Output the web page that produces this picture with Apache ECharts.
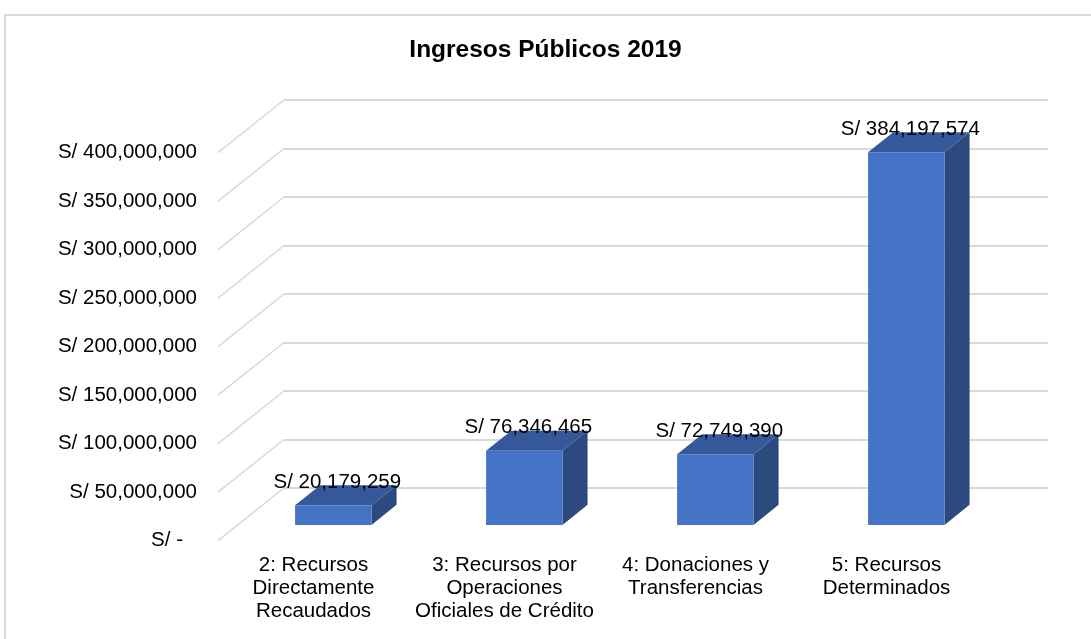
<!DOCTYPE html>
<html>
<head>
<meta charset="utf-8">
<title>Ingresos Públicos 2019</title>
<script src="https://cdn.jsdelivr.net/npm/echarts@6/dist/echarts.min.js"></script>
<style>
  html, body { margin: 0; padding: 0; background: #fff; }
  #main { width: 1091px; height: 639px; }
</style>
</head>
<body>
<div id="main"></div>
<script>
// categorías (partidas en líneas como en el gráfico original)
var categorias = [
  '2: Recursos\nDirectamente\nRecaudados',
  '3: Recursos por\nOperaciones\nOficiales de Crédito',
  '4: Donaciones y\nTransferencias',
  '5: Recursos\nDeterminados'
]
// montos por fuente de financiamiento
var montos = [20179259, 76346465, 72749390, 384197574]
// marcas del eje de valores
var marcas = [0, 50000000, 100000000, 150000000, 200000000, 250000000, 300000000, 350000000, 400000000]

// profundidad del "3D": desplazamiento de la pared del fondo respecto al plano frontal (px)
var PROF_X = 66
var PROF_Y = 52.7
var FUENTE = '"Liberation Sans", Arial, sans-serif'
var TAM = 20.5

function formato(v) {
  if (v === 0) return 'S/ -'
  return 'S/ ' + v.toLocaleString('en-US')
}

var chart = echarts.init(document.getElementById('main'))

// plano frontal
var gridFrente = { left: 218, right: 109, top: 152.7, bottom: 98.3 }
// pared del fondo (desplazada por la profundidad)
var gridFondo = {
  left: gridFrente.left + PROF_X,
  right: gridFrente.right - PROF_X,
  top: gridFrente.top - PROF_Y,
  bottom: gridFrente.bottom + PROF_Y
}

// líneas diagonales de la pared lateral
function dibujarDiagonal(params, api) {
  var p = api.coord([0, api.value(1)])
  var x0 = p[0] - api.size([1, 0])[0] / 2
  return {
    type: 'line',
    shape: { x1: x0, y1: p[1], x2: x0 + PROF_X, y2: p[1] - PROF_Y },
    style: { stroke: '#d9d9d9', lineWidth: 1.5 }
  }
}

// barra 3D: cara frontal, superior y lateral
function dibujarBarra(params, api) {
  var i = api.value(0)
  var v = api.value(1)
  var base = api.coord([i, 0])
  var tope = api.coord([i, v])
  var ancho = api.size([1, 0])[0] * 0.4
  var ox = PROF_X * 0.3, oy = -PROF_Y * 0.3
  var dx = PROF_X * 0.38, dy = -PROF_Y * 0.38
  var x0 = base[0] - ancho / 2 + ox
  var x1 = x0 + ancho
  var y0 = base[1] + oy
  var y1 = tope[1] + oy
  return {
    type: 'group',
    children: [
      {
        type: 'polygon',
        shape: { points: [[x1, y0], [x1 + dx, y0 + dy], [x1 + dx, y1 + dy], [x1, y1]] },
        style: { fill: '#2c4a7e' }
      },
      {
        type: 'polygon',
        shape: { points: [[x0, y1], [x1, y1], [x1 + dx, y1 + dy], [x0 + dx, y1 + dy]] },
        style: { fill: '#34589a' }
      },
      {
        type: 'rect',
        shape: { x: x0, y: y1, width: ancho, height: y0 - y1 },
        style: { fill: '#4472c4' }
      },
      {
        type: 'text',
        x: x0 + ancho / 2 + 4,
        y: y1 - 23,
        style: {
          text: formato(v),
          fill: '#000',
          fontSize: TAM,
          fontFamily: FUENTE,
          align: 'center',
          verticalAlign: 'middle'
        }
      }
    ]
  }
}

var option = {
  backgroundColor: '#fff',
  animation: false,
  title: {
    text: 'Ingresos Públicos 2019',
    left: 'center',
    top: 33,
    textStyle: { fontSize: 24.5, fontWeight: 'bold', fontFamily: FUENTE, color: '#000' }
  },
  graphic: [
    {
      type: 'rect',
      shape: { x: 5, y: 15, width: 1100, height: 640 },
      style: { fill: 'none', stroke: '#d9d9d9', lineWidth: 2 },
      silent: true
    }
  ],
  grid: [gridFrente, gridFondo],
  xAxis: [
    {
      type: 'category',
      gridIndex: 0,
      data: categorias,
      axisLine: { show: false },
      axisTick: { show: false },
      axisLabel: {
        margin: 13,
        fontSize: TAM,
        lineHeight: 23,
        fontFamily: FUENTE,
        color: '#000',
        interval: 0
      }
    },
    {
      type: 'category',
      gridIndex: 1,
      data: categorias,
      show: false
    }
  ],
  yAxis: [
    {
      type: 'value',
      gridIndex: 0,
      min: 0,
      max: 400000000,
      interval: 50000000,
      splitLine: { show: false },
      axisLine: { show: false },
      axisTick: { show: false },
      axisLabel: {
        margin: 21,
        fontSize: TAM,
        fontFamily: FUENTE,
        color: '#000',
        formatter: function (v) {
          return v === 0 ? '{cero|S/ -}' : formato(v)
        },
        rich: {
          cero: { fontSize: TAM, fontFamily: FUENTE, color: '#000', padding: [0, 14, 0, 0] }
        }
      }
    },
    {
      type: 'value',
      gridIndex: 1,
      min: 0,
      max: 400000000,
      interval: 50000000,
      axisLine: { show: false },
      axisTick: { show: false },
      axisLabel: { show: false },
      splitLine: { lineStyle: { color: '#d9d9d9', width: 2 } }
    }
  ],
  series: [
    {
      type: 'custom',
      xAxisIndex: 0,
      yAxisIndex: 0,
      renderItem: dibujarDiagonal,
      clip: false,
      silent: true,
      data: marcas.map(function (m) { return [0, m] })
    },
    {
      type: 'custom',
      xAxisIndex: 0,
      yAxisIndex: 0,
      renderItem: dibujarBarra,
      clip: false,
      data: montos.map(function (m, i) { return [i, m] })
    }
  ]
}

chart.setOption(option)
</script>
</body>
</html>
